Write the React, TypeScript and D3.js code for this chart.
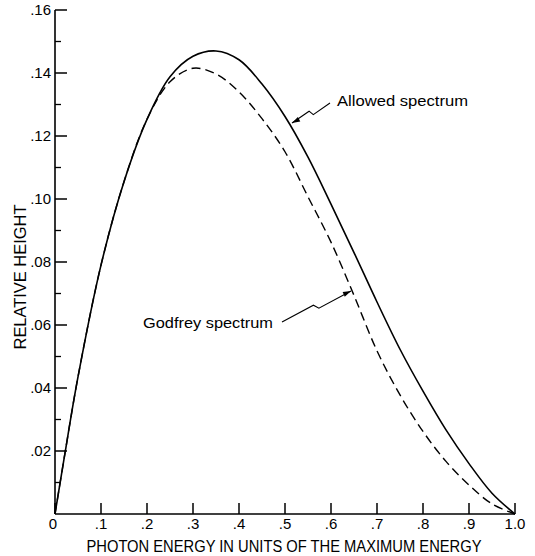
import React from "react";
import * as d3 from "d3";

const energies = [0, 0.02, 0.05, 0.1, 0.15, 0.2, 0.25, 0.3, 0.35, 0.4, 0.45, 0.5, 0.55, 0.6, 0.65, 0.7, 0.75, 0.8, 0.85, 0.9, 0.95, 1.0];
const allowed = [0, 0.0178, 0.0435, 0.079, 0.1055, 0.1253, 0.1388, 0.1453, 0.147, 0.1442, 0.1365, 0.1262, 0.1133, 0.0984, 0.083, 0.0673, 0.0523, 0.039, 0.0267, 0.016, 0.0066, 0];
const godfrey = [0, 0.0178, 0.0435, 0.079, 0.1055, 0.1253, 0.1372, 0.1415, 0.1397, 0.134, 0.1255, 0.115, 0.1007, 0.0863, 0.0694, 0.0518, 0.0378, 0.0262, 0.0167, 0.0092, 0.0032, 0];
const xTicks = [0, 0.1, 0.2, 0.3, 0.4, 0.5, 0.6, 0.7, 0.8, 0.9, 1.0];
const xTickLabels = ["0", ".1", ".2", ".3", ".4", ".5", ".6", ".7", ".8", ".9", "1.0"];
const yTicks = [0.02, 0.04, 0.06, 0.08, 0.1, 0.12, 0.14, 0.16];
const yTickLabels = [".02", ".04", ".06", ".08", ".10", ".12", ".14", ".16"];
const yMinorTicks = [0.01, 0.03, 0.05, 0.07, 0.09, 0.11, 0.13, 0.15];

const FONT = "'Liberation Sans', Arial, sans-serif";

export default function App() {
  const x = d3.scaleLinear().domain([0, 1]).range([55, 515]);
  const y = d3.scaleLinear().domain([0, 0.16]).range([514, 10]);

  const line = (vals: number[]) =>
    d3
      .line<number>()
      .x((_, i) => x(energies[i]))
      .y((v) => y(v))
      .curve(d3.curveCatmullRom.alpha(0.5))(vals) || "";

  // leader with zigzag break and arrow head
  const leader = (ax: number, ay: number, bx: number, by: number) => {
    const dx = bx - ax;
    const dy = by - ay;
    const len = Math.hypot(dx, dy);
    const ux = dx / len;
    const uy = dy / len;
    const nx = -uy;
    const ny = ux;
    const p1 = [ax + dx * 0.52 + nx * 2.5, ay + dy * 0.52 + ny * 2.5];
    const p2 = [ax + dx * 0.47 - nx * 2.5, ay + dy * 0.47 - ny * 2.5];
    const path = `M${ax},${ay}L${p2[0]},${p2[1]}L${p1[0]},${p1[1]}L${bx},${by}`;
    const hl = 8;
    const hw = 2.6;
    const head = `M${bx},${by}L${bx - ux * hl + nx * hw},${by - uy * hl + ny * hw}L${bx - ux * hl - nx * hw},${by - uy * hl - ny * hw}Z`;
    return (
      <g>
        <path d={path} fill="none" stroke="#000" strokeWidth={1.1} />
        <path d={head} fill="#000" />
      </g>
    );
  };

  return (
    <svg width={535} height={556} style={{ position: "absolute", left: 0, top: 0, background: "#fff" }}>
      <rect width={535} height={556} fill="#fff" />
      {/* axes */}
      <line x1={x(0)} x2={x(0)} y1={y(0.16)} y2={y(0)} stroke="#000" strokeWidth={1.6} />
      <line x1={x(0)} x2={x(1)} y1={y(0)} y2={y(0)} stroke="#000" strokeWidth={1.6} />
      {yTicks.map((t) => (
        <line key={"yt" + t} x1={x(0)} x2={x(0) + 12} y1={y(t)} y2={y(t)} stroke="#000" strokeWidth={1.5} />
      ))}
      {yMinorTicks.map((t) => (
        <line key={"ym" + t} x1={x(0)} x2={x(0) + 6} y1={y(t)} y2={y(t)} stroke="#000" strokeWidth={1.3} />
      ))}
      {yTicks.map((t, i) => (
        <text key={"yl" + t} x={x(0) - 4} y={y(t) + 5} textAnchor="end" fontFamily={FONT} fontSize={15} fill="#000">
          {yTickLabels[i]}
        </text>
      ))}
      {xTicks.map((t) => (
        <line key={"xt" + t} x1={x(t)} x2={x(t)} y1={y(0)} y2={y(0) - 11} stroke="#000" strokeWidth={1.5} />
      ))}
      {xTicks.map((t, i) => (
        <text key={"xl" + t} x={x(t) - (i === 0 ? 2 : 0)} y={529} textAnchor="middle" fontFamily={FONT} fontSize={15} fill="#000">
          {xTickLabels[i]}
        </text>
      ))}
      <text x={284} y={552} textAnchor="middle" fontFamily={FONT} fontSize={16} textLength={395} lengthAdjust="spacingAndGlyphs" fill="#000">
        PHOTON ENERGY IN UNITS OF THE MAXIMUM ENERGY
      </text>
      <text
        transform="translate(26,277) rotate(-90)"
        textAnchor="middle"
        fontFamily={FONT}
        fontSize={16}
        textLength={145}
        lengthAdjust="spacingAndGlyphs"
        fill="#000"
      >
        RELATIVE HEIGHT
      </text>
      {/* curves */}
      <path d={line(godfrey)} fill="none" stroke="#000" strokeWidth={1.4} strokeDasharray="9,5" />
      <path d={line(allowed)} fill="none" stroke="#000" strokeWidth={1.6} />
      {/* annotations */}
      {leader(330, 103, 292, 123)}
      <text x={337} y={106} fontFamily={FONT} fontSize={15} textLength={131} lengthAdjust="spacingAndGlyphs" fill="#000">
        Allowed spectrum
      </text>
      {leader(282, 322, 351, 291)}
      <text x={143} y={328} fontFamily={FONT} fontSize={15} textLength={130} lengthAdjust="spacingAndGlyphs" fill="#000">
        Godfrey spectrum
      </text>
    </svg>
  );
}
